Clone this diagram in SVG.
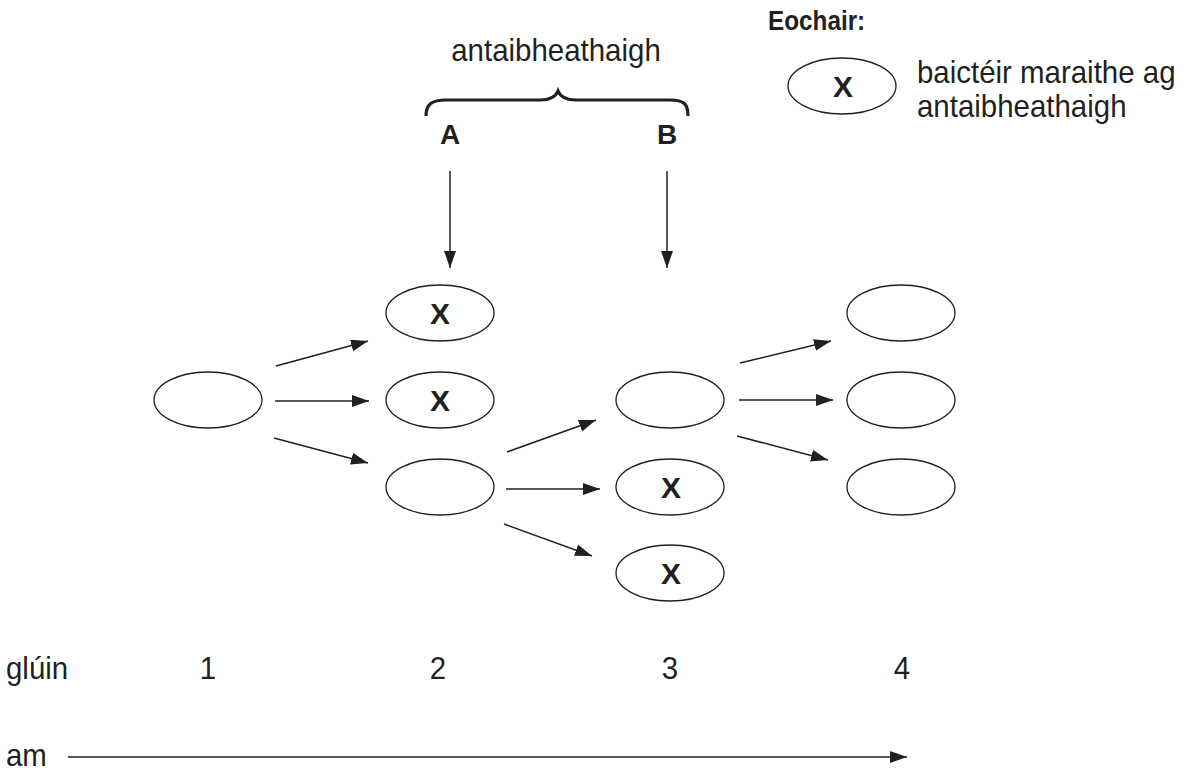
<svg xmlns="http://www.w3.org/2000/svg" width="1197" height="771" viewBox="0 0 1197 771">
<defs>
<marker id="ah" markerUnits="userSpaceOnUse" markerWidth="18" markerHeight="14" refX="17" refY="6" orient="auto">
<path d="M0,0 L17,6 L0,12 z" fill="#231f20"/>
</marker>
</defs>
<style>
.n{fill:#fff;stroke:#231f20;stroke-width:1.3}
.t{font-family:"Liberation Sans",Arial,sans-serif;font-size:31px;fill:#231f20}
.b{font-family:"Liberation Sans",Arial,sans-serif;font-size:30px;font-weight:bold;fill:#231f20}
.c{stroke:#231f20;stroke-width:1.5;fill:none;marker-end:url(#ah)}
</style>
<rect width="1197" height="771" fill="#fff"/>

<text class="t" transform="translate(556,61) scale(0.95,1)" text-anchor="middle">antaibheathaigh</text>
<path d="M426,116 C426,104 432,100 446,100 L540,100 C552,100 556,96 558,91 C560,96 564,100 576,100 L670,100 C684,100 688,104 688,116" fill="none" stroke="#231f20" stroke-width="3.2"/>
<text class="b" x="450" y="144" text-anchor="middle" style="font-size:28px">A</text>
<text class="b" x="667" y="144" text-anchor="middle" style="font-size:28px">B</text>

<g id="key">
<text class="b" transform="translate(768,30) scale(0.9,1)" style="font-size:27px">Eochair:</text>
<ellipse class="n" cx="842" cy="86" rx="54" ry="28"/>
<text class="b" x="843" y="97" text-anchor="middle">X</text>
<text class="t" transform="translate(917,83) scale(0.95,1)">baictéir maraithe ag</text>
<text class="t" transform="translate(917,117) scale(0.95,1)">antaibheathaigh</text>
</g>

<g id="g1n1"><ellipse class="n" cx="208" cy="400" rx="54" ry="28"/></g>
<g id="g2n1"><ellipse class="n" cx="440" cy="313" rx="54" ry="28"/><text class="b" x="440" y="324" text-anchor="middle">X</text></g>
<g id="g2n2"><ellipse class="n" cx="440" cy="400" rx="54" ry="28"/><text class="b" x="440" y="411" text-anchor="middle">X</text></g>
<g id="g2n3"><ellipse class="n" cx="440" cy="487" rx="54" ry="28"/></g>
<g id="g3n1"><ellipse class="n" cx="670" cy="400" rx="54" ry="28"/></g>
<g id="g3n2"><ellipse class="n" cx="670" cy="487" rx="54" ry="28"/><text class="b" x="671" y="498" text-anchor="middle">X</text></g>
<g id="g3n3"><ellipse class="n" cx="670" cy="573" rx="54" ry="28"/><text class="b" x="671" y="584" text-anchor="middle">X</text></g>
<g id="g4n1"><ellipse class="n" cx="901" cy="313" rx="54" ry="28"/></g>
<g id="g4n2"><ellipse class="n" cx="901" cy="400" rx="54" ry="28"/></g>
<g id="g4n3"><ellipse class="n" cx="901" cy="487" rx="54" ry="28"/></g>

<g id="connectors">
<line class="c" x1="450" y1="171" x2="450" y2="268"/>
<line class="c" x1="667" y1="171" x2="667" y2="268"/>
<line class="c" x1="276" y1="366" x2="368" y2="341"/>
<line class="c" x1="275" y1="401" x2="369" y2="401"/>
<line class="c" x1="274" y1="438" x2="368" y2="463"/>
<line class="c" x1="507" y1="452" x2="596" y2="420"/>
<line class="c" x1="506" y1="489" x2="600" y2="489"/>
<line class="c" x1="504" y1="524" x2="592" y2="556"/>
<line class="c" x1="740" y1="363" x2="831" y2="341"/>
<line class="c" x1="739" y1="400" x2="833" y2="400"/>
<line class="c" x1="737" y1="436" x2="828" y2="460"/>
<line class="c" x1="68" y1="757" x2="907" y2="757"/>
</g>

<text class="t" transform="translate(6,679) scale(0.95,1)">glúin</text>
<text class="t" transform="translate(208,679) scale(0.95,1)" text-anchor="middle">1</text>
<text class="t" transform="translate(438,679) scale(0.95,1)" text-anchor="middle">2</text>
<text class="t" transform="translate(670,679) scale(0.95,1)" text-anchor="middle">3</text>
<text class="t" transform="translate(902,679) scale(0.95,1)" text-anchor="middle">4</text>
<text class="t" transform="translate(6,766) scale(0.95,1)">am</text>
</svg>
